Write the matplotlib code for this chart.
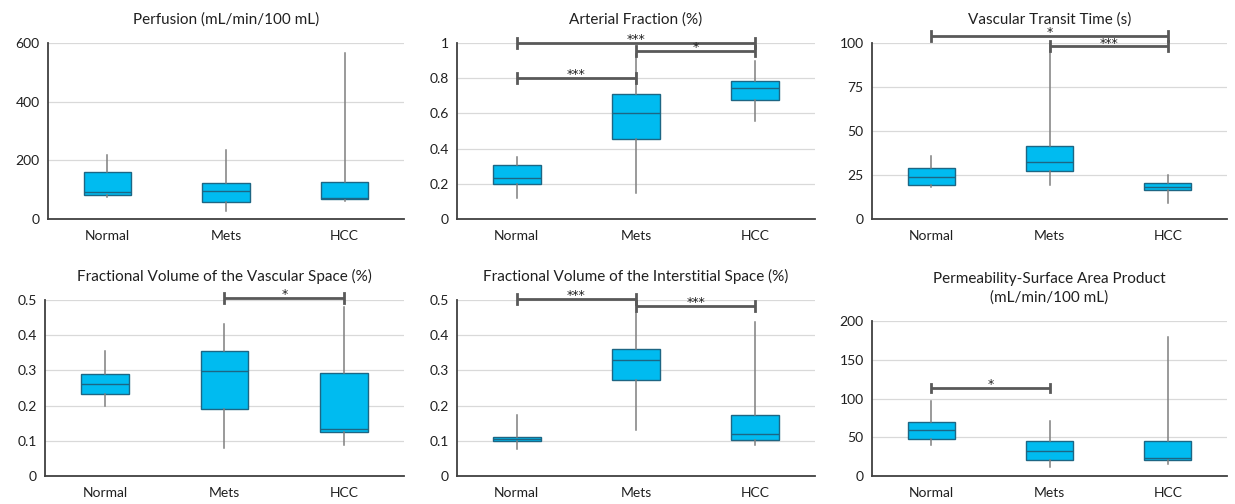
import numpy as np
import matplotlib
matplotlib.use("Agg")
import matplotlib.pyplot as plt

plt.rcParams['font.family'] = ['Lato', 'DejaVu Sans']

groups = ['Normal', 'Mets', 'HCC']

titles = ['Perfusion (mL/min/100 mL)',
          'Arterial Fraction (%)',
          'Vascular Transit Time (s)',
          'Fractional Volume of the Vascular Space (%)',
          'Fractional Volume of the Interstitial Space (%)',
          'Permeability-Surface Area Product\n(mL/min/100 mL)']

# per panel, per group: whisker low, q1, median, q3, whisker high
perfusion = [[75, 83, 92, 159, 219],
             [27, 57, 94, 124, 236],
             [60, 69, 72, 125, 566]]
arterial = [[0.12, 0.20, 0.233, 0.305, 0.35],
            [0.148, 0.455, 0.602, 0.712, 0.94],
            [0.555, 0.674, 0.744, 0.786, 0.90]]
transit = [[17.9, 19.1, 23.8, 29.2, 35.8],
           [19.4, 27.5, 32.3, 41.7, 100],
           [9.1, 16.6, 18.1, 20.2, 25.1]]
vasc_space = [[0.199, 0.234, 0.261, 0.289, 0.355],
              [0.08, 0.19, 0.299, 0.356, 0.431],
              [0.089, 0.125, 0.133, 0.294, 0.481]]
inter_space = [[0.078, 0.099, 0.104, 0.111, 0.173],
               [0.132, 0.274, 0.329, 0.361, 0.462],
               [0.089, 0.103, 0.118, 0.174, 0.438]]
ps_product = [[40.4, 47.3, 59.4, 69.7, 96.3],
              [11.6, 20.6, 31.8, 45.2, 70.5],
              [15.5, 20.6, 23.7, 44.7, 180]]

panels = [perfusion, arterial, transit, vasc_space, inter_space, ps_product]

yticks = [[0, 200, 400, 600],
          [0, 0.2, 0.4, 0.6, 0.8, 1],
          [0, 25, 50, 75, 100],
          [0, 0.1, 0.2, 0.3, 0.4, 0.5],
          [0, 0.1, 0.2, 0.3, 0.4, 0.5],
          [0, 50, 100, 150, 200]]
ylabels = [['0', '200', '400', '600'],
           ['0', '0.2', '0.4', '0.6', '0.8', '1'],
           ['0', '25', '50', '75', '100'],
           ['0', '0.1', '0.2', '0.3', '0.4', '0.5'],
           ['0', '0.1', '0.2', '0.3', '0.4', '0.5'],
           ['0', '50', '100', '150', '200']]

# significance brackets: (from group, to group, height, stars)
brackets = [[],
            [(0, 2, 1.0, '***'), (1, 2, 0.953, '*'), (0, 1, 0.80, '***')],
            [(0, 2, 104.2, '*'), (1, 2, 98.1, '***')],
            [(1, 2, 0.505, '*')],
            [(0, 1, 0.502, '***'), (1, 2, 0.483, '***')],
            [(0, 1, 113.5, '*')]]

# axes rectangles in pixels (left, top, right, bottom)
W, H = 1235, 504
rects = [(48, 43, 404, 219), (457, 43, 815, 219), (872, 43, 1227, 219),
         (45, 300, 404, 476), (457, 300, 815, 476), (872, 321, 1227, 476)]

box_fill = '#00BBF0'
box_edge = '#1D6684'
whisk_col = '#7F7F7F'
brk_col = '#595959'

fig = plt.figure(figsize=(W / 100, H / 100), dpi=100)

for i in range(6):
    l, t, r, b = rects[i]
    ax = fig.add_axes([l / W, 1 - b / H, (r - l) / W, (b - t) / H])
    stats = []
    for g, v in zip(groups, panels[i]):
        stats.append(dict(label=g, whislo=v[0], q1=v[1], med=v[2],
                          q3=v[3], whishi=v[4], fliers=[]))
    ax.bxp(stats, positions=[0, 1, 2], widths=0.4, patch_artist=True,
           showfliers=False, showcaps=False,
           boxprops=dict(facecolor=box_fill, edgecolor=box_edge, linewidth=1),
           medianprops=dict(color=box_edge, linewidth=1),
           whiskerprops=dict(color=whisk_col, linewidth=1.1))
    ax.set_xlim(-0.5, 2.5)
    ax.set_ylim(0, yticks[i][-1])
    ax.set_yticks(yticks[i])
    ax.set_yticklabels(ylabels[i])
    ax.set_xticks([0, 1, 2])
    ax.set_xticklabels(groups)
    ax.grid(axis='y', color='#D9D9D9', linewidth=0.9)
    ax.set_axisbelow(True)
    for s in ['top', 'right']:
        ax.spines[s].set_visible(False)
    ax.spines['left'].set_color('#404040')
    ax.spines['bottom'].set_color('#404040')
    ax.spines['left'].set_linewidth(1.3)
    ax.spines['bottom'].set_linewidth(1.3)
    ax.tick_params(length=0, labelsize=10, colors='#202020')
    ax.tick_params(axis='x', pad=8)
    ax.tick_params(axis='y', pad=6)
    ax.set_title(titles[i], fontsize=11, color='#202020', pad=14,
                 linespacing=1.4)

    ymax = yticks[i][-1]
    cap = 0.028 * ymax
    for g1, g2, h, stars in brackets[i]:
        ax.plot([g1, g2], [h, h], color=brk_col, linewidth=2, clip_on=False,
                solid_capstyle='butt')
        for g in (g1, g2):
            ax.plot([g, g], [h - cap, h + cap], color=brk_col, linewidth=2,
                    clip_on=False)
        ax.text((g1 + g2) / 2, h - 0.018 * ymax, stars, ha='center',
                va='bottom', fontsize=9, color='#202020',
                family='DejaVu Sans')

fig.savefig('out.png', dpi=100)
